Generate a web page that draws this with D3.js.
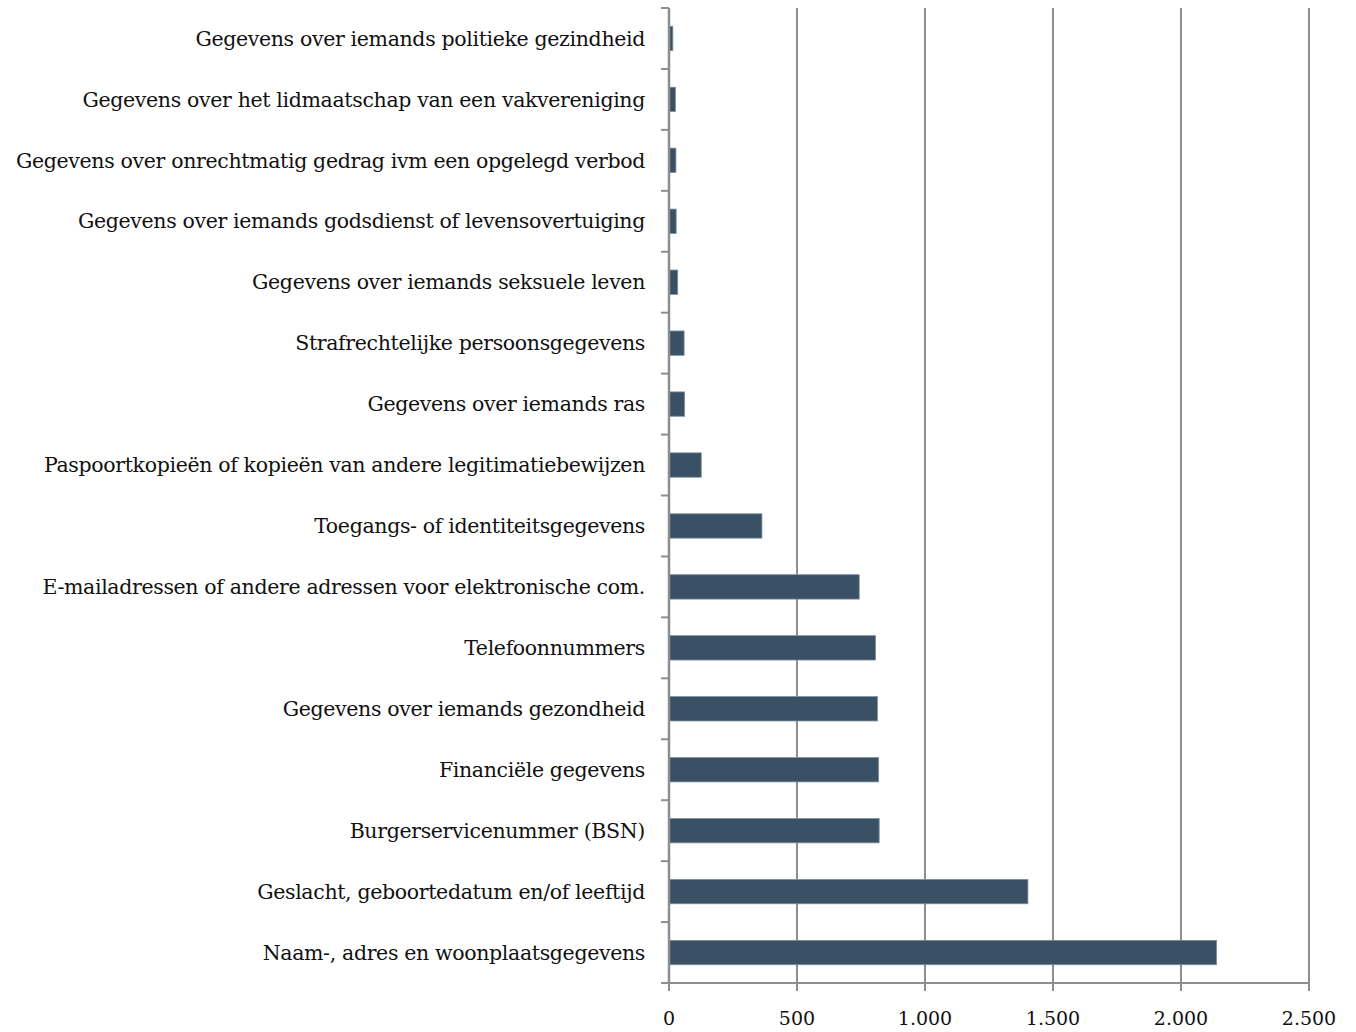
<!DOCTYPE html>
<html>
<head>
<meta charset="utf-8">
<script src="https://cdn.jsdelivr.net/npm/d3@7"></script>
<style>
  body { margin: 0; background: #fff; }
  text { font-family: 'DejaVu Serif', 'Liberation Serif', serif; fill: #111; }
</style>
</head>
<body>
<div id="chart"></div>
<script>
// categories, top to bottom
let categories = [
  'Gegevens over iemands politieke gezindheid',
  'Gegevens over het lidmaatschap van een vakvereniging',
  'Gegevens over onrechtmatig gedrag ivm een opgelegd verbod',
  'Gegevens over iemands godsdienst of levensovertuiging',
  'Gegevens over iemands seksuele leven',
  'Strafrechtelijke persoonsgegevens',
  'Gegevens over iemands ras',
  'Paspoortkopieën of kopieën van andere legitimatiebewijzen',
  'Toegangs- of identiteitsgegevens',
  'E-mailadressen of andere adressen voor elektronische com.',
  'Telefoonnummers',
  'Gegevens over iemands gezondheid',
  'Financiële gegevens',
  'Burgerservicenummer (BSN)',
  'Geslacht, geboortedatum en/of leeftijd',
  'Naam-, adres en woonplaatsgegevens'
]
let values = [15, 25, 27, 28, 34, 59, 61, 126, 363, 743, 807, 814, 819, 821, 1402, 2139]
let tickValues = [0, 500, 1000, 1500, 2000, 2500]

let margin = { top: 8, left: 669, right: 47, bottom: 49 }
let width = 1356 - margin.left - margin.right
let height = 1032 - margin.top - margin.bottom

let svg = d3
  .select('#chart')
  .append('svg')
  .attr('width', 1356)
  .attr('height', 1032)
  .append('g')
  .attr('transform', 'translate(' + margin.left + ',' + margin.top + ')')

let xPositionScale = d3.scaleLinear().domain([0, 2500]).range([0, width])
let yPositionScale = d3
  .scaleBand()
  .domain(categories)
  .range([0, height])
  .paddingInner(0.6)
  .paddingOuter(0.3)

// gridlines
svg
  .selectAll('.grid')
  .data(tickValues.slice(1))
  .enter()
  .append('line')
  .attr('class', 'grid')
  .attr('x1', d => xPositionScale(d))
  .attr('x2', d => xPositionScale(d))
  .attr('y1', 0)
  .attr('y2', height)
  .attr('stroke', '#8e8e8e')
  .attr('stroke-width', 2)

// bars
svg
  .selectAll('.bar')
  .data(values)
  .enter()
  .append('rect')
  .attr('class', 'bar')
  .attr('x', 0)
  .attr('y', (d, i) => yPositionScale(categories[i]))
  .attr('height', yPositionScale.bandwidth())
  .attr('width', d => xPositionScale(d))
  .attr('fill', '#3a5064')
  .attr('stroke', '#7d8fa0')
  .attr('stroke-width', 0.8)

// y axis: tick marks between categories
let step = height / categories.length
let yTicks = d3.range(categories.length + 1).map(i => i * step)
svg
  .selectAll('.ytick')
  .data(yTicks)
  .enter()
  .append('line')
  .attr('x1', -8)
  .attr('x2', 0)
  .attr('y1', d => d)
  .attr('y2', d => d)
  .attr('stroke', '#8e8e8e')
  .attr('stroke-width', 2)

svg
  .append('line')
  .attr('x1', 0)
  .attr('x2', 0)
  .attr('y1', 0)
  .attr('y2', height)
  .attr('stroke', '#8e8e8e')
  .attr('stroke-width', 2.5)

svg
  .selectAll('.ylabel')
  .data(categories)
  .enter()
  .append('text')
  .attr('x', -24)
  .attr('y', d => yPositionScale(d) + yPositionScale.bandwidth() / 2)
  .attr('dy', '0.35em')
  .attr('text-anchor', 'end')
  .attr('font-size', 20.5)
  .attr('letter-spacing', -0.35)
  .text(d => d)

// x axis
svg
  .append('line')
  .attr('x1', 0)
  .attr('x2', width)
  .attr('y1', height)
  .attr('y2', height)
  .attr('stroke', '#8e8e8e')
  .attr('stroke-width', 2)

svg
  .selectAll('.xtick')
  .data(tickValues)
  .enter()
  .append('line')
  .attr('x1', d => xPositionScale(d))
  .attr('x2', d => xPositionScale(d))
  .attr('y1', height)
  .attr('y2', height + 8)
  .attr('stroke', '#8e8e8e')
  .attr('stroke-width', 2)

let fmt = d3.formatLocale({ decimal: ',', thousands: '.', grouping: [3], currency: ['', ''] }).format(',')
svg
  .selectAll('.xlabel')
  .data(tickValues)
  .enter()
  .append('text')
  .attr('x', d => xPositionScale(d))
  .attr('y', height + 42)
  .attr('text-anchor', 'middle')
  .attr('font-size', 19)
  .text(d => fmt(d))
</script>
</body>
</html>
